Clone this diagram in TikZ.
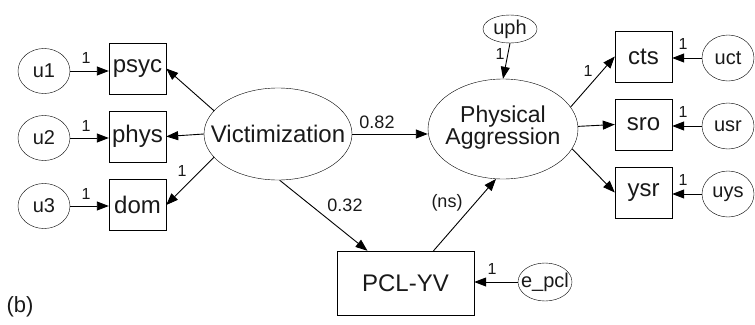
\documentclass[tikz,border=0pt]{standalone}
\usepackage{fontspec}
\setmainfont{Liberation Sans}
\usetikzlibrary{shapes.geometric,arrows.meta}
\begin{document}
\begin{tikzpicture}[x=1pt,y=-1pt,
  every node/.style={text=black!90},
  obs/.style={draw, rectangle, inner sep=0pt, minimum width=57pt, minimum height=51pt, font=\fontsize{24}{28}\selectfont},
  err/.style={draw, ellipse, inner sep=0pt, minimum width=52pt, minimum height=45pt, font=\fontsize{20}{24}\selectfont},
  lat/.style={draw, ellipse, inner sep=0pt, font=\fontsize{24}{24}\selectfont},
  arr/.style={-{Triangle[length=12pt,width=9pt]}, line width=0.9pt},
  coef/.style={font=\fontsize{18}{20}\selectfont, inner sep=0pt},
  one/.style={font=\fontsize{16}{18}\selectfont, inner sep=0pt}]
\useasboundingbox (0,0) rectangle (755,324);
% left block
\node[err] (u1) at (44,71) {\makebox[0pt]{u1}};
\node[err] (u2) at (44,138) {\makebox[0pt]{u2}};
\node[err] (u3) at (44,206) {\makebox[0pt]{u3}};
\node[obs] (psyc) at (137.5,68.5) {psyc};
\node[obs] (phys) at (137.5,136.5) {phys};
\node[obs] (dom) at (137.5,205) {dom};
\node[lat, minimum width=148pt, minimum height=92pt] (vic) at (278,134) {\makebox[0pt]{Victimization}};
% right block
\node[lat, minimum width=150pt, minimum height=100pt] (pa) at (503,129)
  {\makebox[0pt]{\fontsize{23}{24}\selectfont\begin{tabular}{@{}c@{}}Physical\\[-2pt]Aggression\end{tabular}}};
\node[err, minimum width=54pt, minimum height=28pt] (uph) at (510,29) {\makebox[0pt]{uph}};
\node[obs] (cts) at (643.5,56.5) {cts};
\node[obs] (sro) at (643.5,124.5) {sro};
\node[obs] (ysr) at (643.5,192.5) {ysr};
\node[err, minimum height=46pt] (uct) at (728,58) {\makebox[0pt]{uct}};
\node[err, minimum height=46pt] (usr) at (728,126) {\makebox[0pt]{usr}};
\node[err, minimum height=46pt] (uys) at (728,194) {\makebox[0pt]{uys}};
% bottom
\node[obs, minimum width=137pt, minimum height=64pt] (pcl) at (405.5,283) {PCL-YV};
\node[err, minimum width=54pt, minimum height=38pt] (epcl) at (545,282) {\makebox[0pt]{e\_pcl}};
\node[font=\fontsize{22}{24}\selectfont, inner sep=0pt] (lab) at (20,307) {(b)};
% connectors
\draw[arr] (u1) -- (u1 -| psyc.west);
\draw[arr] (u2) -- (u2 -| phys.west);
\draw[arr] (u3) -- (u3 -| dom.west);
\draw[arr] (vic.160) -- (psyc.east);
\draw[arr] (vic.west) -- (phys.east);
\draw[arr] (vic.200) -- (dom.east);
\draw[arr] (vic.east) -- (pa.west |- vic.east);
\draw[arr] (vic.-88) -- ([xshift=-38pt]pcl.north);
\draw[arr] ([xshift=28pt]pcl.north) -- (pa.-98);
\draw[arr] (uph.south) -- (pa.north);
\draw[arr] (pa.18) -- (cts.west);
\draw[arr] (pa.2) -- (sro.west);
\draw[arr] (pa.-16) -- (ysr.west);
\draw[arr] (uct) -- (uct -| cts.east);
\draw[arr] (usr) -- (usr -| sro.east);
\draw[arr] (uys) -- (uys -| ysr.east);
\draw[arr] (epcl) -- (epcl -| pcl.east);
% labels
\node[one] (l1) at (86,58) {1};
\node[one] (l2) at (86,126) {1};
\node[one] (l3) at (86,194) {1};
\node[one] (l4) at (182,171) {1};
\node[coef] (c82) at (377,122) {0.82};
\node[coef] (c32) at (345,205) {0.32};
\node[coef] (cns) at (447,203) {(ns)};
\node[one] (l5) at (500,54) {1};
\node[one] (l6) at (588,71) {1};
\node[one] (l7) at (683,44) {1};
\node[one] (l8) at (683,112) {1};
\node[one] (l9) at (683,180) {1};
\node[one] (l10) at (492,269) {1};
\end{tikzpicture}
\end{document}
